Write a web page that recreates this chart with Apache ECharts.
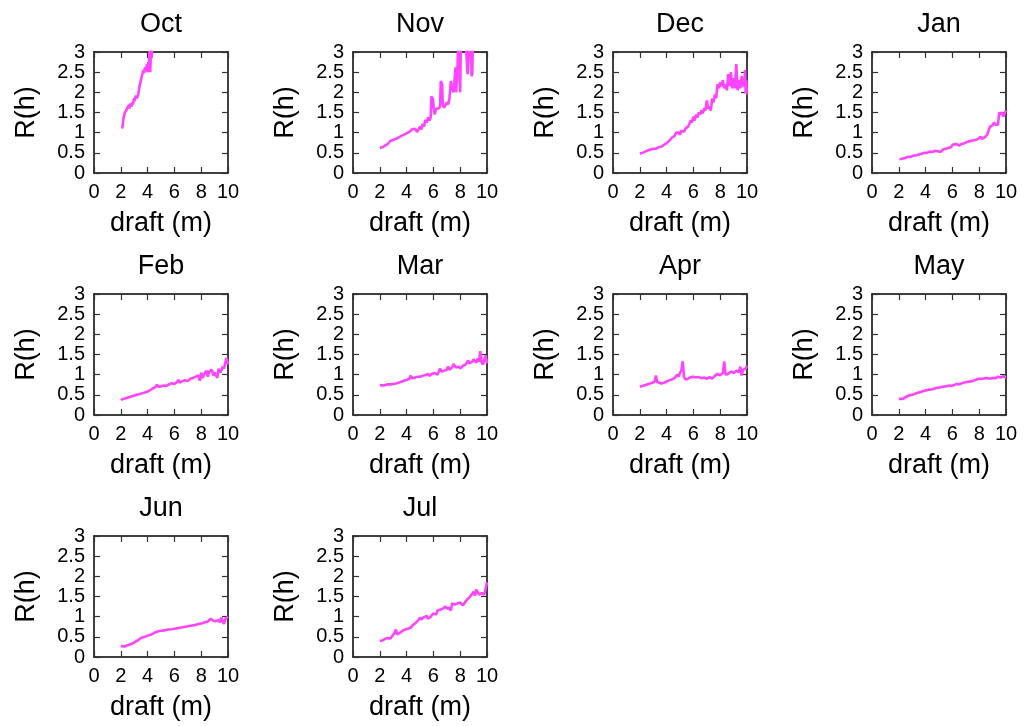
<!DOCTYPE html>
<html>
<head>
<meta charset="utf-8">
<script src="https://cdn.jsdelivr.net/npm/echarts@6/dist/echarts.min.js"></script>
<style>
html, body { margin: 0; padding: 0; background: #fff; }
#myChart { width: 1024px; height: 726px; }
</style>
</head>
<body>
<div id="myChart"></div>
<script>
var Panels = {};

Panels.months = ['Oct', 'Nov', 'Dec', 'Jan', 'Feb', 'Mar', 'Apr', 'May', 'Jun', 'Jul'];
Panels.xTicks = [0, 10, 2];   // min, max, step
Panels.yTicks = [0, 3, 0.5];

// draft (m), R(h)
var octData = [[2.1,1.1],[2.15,1.2],[2.2,1.35],[2.3,1.5],[2.4,1.55],[2.5,1.62],[2.6,1.68],[2.65,1.6],[2.7,1.72],[2.8,1.65],[2.85,1.75],[2.9,1.7],[3.0,1.85],[3.05,1.78],[3.1,1.92],[3.2,1.85],[3.3,1.95],[3.4,2.15],[3.5,2.3],[3.6,2.45],[3.7,2.55],[3.75,2.48],[3.8,2.62],[3.9,2.55],[3.95,2.7],[4.0,2.5],[4.05,2.75],[4.1,2.6],[4.15,3.05],[4.2,2.5],[4.25,3.1],[4.3,2.85],[4.35,3.1],[4.45,3.2],[4.6,3.3]];
var novData = [[2.0,0.62],[2.2,0.64],[2.4,0.68],[2.6,0.72],[2.7,0.75],[2.8,0.8],[2.9,0.78],[3.0,0.82],[3.2,0.85],[3.4,0.88],[3.6,0.92],[3.8,0.95],[4.0,0.98],[4.2,1.02],[4.4,1.08],[4.5,1.12],[4.6,1.1],[4.7,1.12],[4.8,1.02],[4.9,1.0],[5.0,1.15],[5.1,1.08],[5.2,1.22],[5.3,1.15],[5.4,1.32],[5.5,1.25],[5.6,1.38],[5.7,1.3],[5.8,1.38],[5.85,1.9],[5.95,1.85],[6.05,1.55],[6.1,1.45],[6.2,1.6],[6.3,1.62],[6.4,1.6],[6.5,1.65],[6.55,2.28],[6.65,2.2],[6.7,1.7],[6.8,1.62],[6.9,1.65],[7.0,1.75],[7.1,1.7],[7.2,1.85],[7.3,2.28],[7.4,2.25],[7.5,2.0],[7.55,2.2],[7.65,2.62],[7.7,2.0],[7.75,1.97],[7.8,2.6],[7.85,3.3],[8.0,2.0],[8.05,3.3],[8.2,3.4],[8.4,3.3],[8.55,2.45],[8.65,2.45],[8.7,3.2],[8.8,3.3],[8.85,2.4],[8.9,2.45],[8.95,3.3]];
var decData = [[2.0,0.48],[2.2,0.5],[2.4,0.53],[2.6,0.56],[2.8,0.58],[3.0,0.6],[3.1,0.63],[3.2,0.6],[3.4,0.64],[3.6,0.65],[3.8,0.7],[4.0,0.74],[4.2,0.8],[4.4,0.88],[4.6,0.92],[4.7,1.0],[4.8,0.97],[4.9,1.0],[5.0,0.95],[5.1,1.05],[5.3,1.02],[5.4,1.1],[5.5,1.08],[5.6,1.15],[5.7,1.22],[5.8,1.3],[5.9,1.25],[6.0,1.4],[6.1,1.3],[6.2,1.45],[6.3,1.38],[6.4,1.5],[6.5,1.45],[6.6,1.55],[6.7,1.48],[6.8,1.6],[6.9,1.55],[7.0,1.8],[7.1,1.6],[7.2,1.65],[7.3,1.55],[7.4,1.85],[7.5,1.75],[7.6,1.95],[7.7,1.85],[7.8,2.2],[7.9,2.1],[8.0,2.25],[8.1,2.15],[8.2,2.3],[8.3,2.1],[8.4,2.2],[8.5,2.05],[8.6,2.45],[8.7,2.15],[8.8,2.5],[8.9,2.1],[9.0,2.35],[9.1,2.1],[9.2,2.7],[9.3,2.05],[9.4,2.3],[9.5,2.1],[9.6,2.4],[9.7,2.15],[9.8,2.2],[9.85,2.55],[9.9,1.98],[9.95,2.3],[10.0,1.95]];
var janData = [[2.05,0.34],[2.3,0.36],[2.5,0.38],[2.7,0.4],[2.9,0.4],[3.1,0.43],[3.3,0.44],[3.5,0.46],[3.7,0.48],[3.9,0.5],[4.1,0.5],[4.3,0.53],[4.5,0.52],[4.7,0.55],[4.9,0.54],[5.1,0.52],[5.3,0.58],[5.5,0.6],[5.7,0.62],[5.9,0.64],[6.0,0.7],[6.1,0.66],[6.3,0.72],[6.5,0.68],[6.7,0.72],[6.9,0.74],[7.0,0.7],[7.2,0.78],[7.4,0.8],[7.5,0.76],[7.7,0.82],[7.9,0.84],[8.0,0.8],[8.1,0.9],[8.2,0.85],[8.4,0.88],[8.5,0.92],[8.6,0.95],[8.8,1.15],[9.0,1.18],[9.1,1.25],[9.2,1.2],[9.3,1.22],[9.4,1.2],[9.5,1.5],[9.6,1.45],[9.7,1.5],[9.8,1.4],[9.9,1.48],[10.0,1.55]];
var febData = [[2.0,0.38],[2.3,0.41],[2.6,0.44],[2.9,0.47],[3.2,0.5],[3.5,0.53],[3.8,0.56],[4.0,0.58],[4.2,0.62],[4.4,0.66],[4.6,0.7],[4.7,0.75],[4.8,0.7],[5.0,0.71],[5.2,0.73],[5.4,0.72],[5.6,0.76],[5.8,0.79],[6.0,0.77],[6.2,0.82],[6.3,0.87],[6.4,0.8],[6.6,0.84],[6.8,0.86],[7.0,0.84],[7.2,0.9],[7.4,0.92],[7.5,0.88],[7.6,0.95],[7.8,0.98],[7.9,0.85],[8.0,1.05],[8.1,0.92],[8.2,1.0],[8.4,1.1],[8.5,0.95],[8.6,1.08],[8.8,1.12],[8.9,0.98],[9.0,1.05],[9.2,0.92],[9.3,1.15],[9.4,1.05],[9.5,1.1],[9.6,1.2],[9.7,1.15],[9.8,1.3],[9.9,1.42],[10.0,1.25]];
var marData = [[2.0,0.74],[2.3,0.73],[2.6,0.76],[2.9,0.76],[3.2,0.78],[3.5,0.81],[3.8,0.85],[4.0,0.87],[4.2,0.9],[4.3,0.98],[4.4,0.91],[4.6,0.92],[4.8,0.95],[5.0,0.95],[5.2,0.97],[5.4,0.99],[5.6,1.02],[5.7,0.97],[5.9,1.02],[6.1,1.04],[6.3,1.0],[6.5,1.15],[6.6,1.08],[6.8,1.1],[7.0,1.12],[7.1,1.2],[7.2,1.12],[7.4,1.18],[7.5,1.26],[7.7,1.18],[7.9,1.2],[8.0,1.15],[8.2,1.22],[8.4,1.25],[8.6,1.35],[8.7,1.28],[8.9,1.32],[9.0,1.38],[9.2,1.3],[9.3,1.4],[9.4,1.32],[9.5,1.58],[9.6,1.3],[9.7,1.25],[9.8,1.38],[9.9,1.48],[10.0,1.28]];
var aprData = [[2.0,0.7],[2.3,0.73],[2.6,0.76],[2.9,0.8],[3.1,0.82],[3.2,0.98],[3.3,0.82],[3.4,0.78],[3.6,0.78],[3.8,0.8],[4.0,0.83],[4.2,0.86],[4.4,0.88],[4.6,0.92],[4.8,1.0],[4.9,0.95],[5.0,1.05],[5.1,1.1],[5.2,1.33],[5.3,0.95],[5.4,0.88],[5.6,0.9],[5.8,0.94],[6.0,0.95],[6.2,0.93],[6.4,0.94],[6.6,0.91],[6.8,0.93],[7.0,0.9],[7.2,0.94],[7.4,0.9],[7.6,0.97],[7.8,1.02],[8.0,0.98],[8.2,1.05],[8.3,1.33],[8.4,1.0],[8.6,1.02],[8.8,1.08],[9.0,1.04],[9.2,1.1],[9.4,1.06],[9.5,1.2],[9.6,0.98],[9.7,1.12],[9.8,1.08],[9.9,1.15],[10.0,1.22]];
var mayData = [[2.0,0.4],[2.3,0.4],[2.5,0.44],[2.8,0.49],[3.0,0.5],[3.3,0.54],[3.5,0.56],[3.8,0.59],[4.0,0.61],[4.3,0.63],[4.5,0.64],[4.8,0.67],[5.0,0.68],[5.3,0.7],[5.5,0.71],[5.8,0.73],[6.0,0.72],[6.3,0.77],[6.5,0.76],[6.8,0.8],[7.0,0.81],[7.3,0.83],[7.5,0.84],[7.8,0.88],[8.0,0.9],[8.3,0.9],[8.5,0.92],[8.8,0.9],[9.0,0.92],[9.2,0.91],[9.4,0.95],[9.6,0.93],[9.8,0.96],[10.0,0.93]];
var junData = [[2.0,0.27],[2.3,0.26],[2.5,0.29],[2.8,0.32],[3.0,0.36],[3.3,0.42],[3.5,0.47],[3.8,0.5],[4.0,0.53],[4.3,0.56],[4.5,0.6],[4.8,0.64],[5.0,0.65],[5.3,0.66],[5.5,0.68],[5.8,0.69],[6.0,0.7],[6.3,0.72],[6.5,0.73],[6.8,0.75],[7.0,0.76],[7.3,0.78],[7.5,0.79],[7.8,0.82],[8.0,0.83],[8.3,0.86],[8.5,0.88],[8.7,0.95],[8.9,0.9],[9.1,0.89],[9.3,0.92],[9.4,0.86],[9.5,0.98],[9.6,0.88],[9.7,0.82],[9.8,0.95],[9.9,0.92],[10.0,1.0]];
var julData = [[2.0,0.4],[2.2,0.41],[2.4,0.45],[2.6,0.47],[2.8,0.46],[3.0,0.55],[3.1,0.6],[3.2,0.68],[3.3,0.56],[3.5,0.6],[3.7,0.65],[3.9,0.68],[4.1,0.7],[4.3,0.73],[4.5,0.8],[4.7,0.85],[4.9,0.92],[5.0,0.98],[5.1,0.93],[5.3,0.99],[5.5,1.02],[5.6,0.95],[5.8,1.0],[6.0,1.08],[6.2,1.05],[6.3,1.15],[6.5,1.17],[6.7,1.2],[6.9,1.25],[7.0,1.2],[7.2,1.22],[7.3,1.15],[7.4,1.33],[7.6,1.3],[7.8,1.33],[8.0,1.35],[8.2,1.28],[8.3,1.25],[8.5,1.42],[8.7,1.48],[8.8,1.52],[9.0,1.62],[9.1,1.52],[9.2,1.67],[9.4,1.55],[9.6,1.58],[9.8,1.55],[9.9,1.7],[10.0,1.85]];

Panels.seriesData = [octData, novData, decData, janData, febData, marData, aprData, mayData, junData, julData];

Panels.colLeft = [94, 353, 613, 872];
Panels.rowTop = [52, 294, 536];
Panels.plotW = 134;
Panels.plotH = 121;
Panels.font = '"Liberation Sans", Arial, Helvetica, sans-serif';
Panels.lineColor = '#ff44ff';

Panels.buildAxis = function(gridIndex, isX, mirror) {
	var t = isX ? Panels.xTicks : Panels.yTicks;
	var axis = {
		type : 'value',
		gridIndex : gridIndex,
		min : t[0],
		max : t[1],
		interval : t[2],
		position : isX ? (mirror ? 'top' : 'bottom') : (mirror ? 'right' : 'left'),
		splitLine : { show : false },
		axisLine : { show : true, onZero : false, lineStyle : { color : '#000', width : 1.5 } },
		axisTick : { show : true, inside : true, length : 6, lineStyle : { color : '#333', width : 1.2 } },
		axisLabel : {
			show : !mirror,
			margin : 9,
			color : '#000',
			fontSize : 20,
			fontFamily : Panels.font,
			showMinLabel : true,
			showMaxLabel : true
		}
	};
	if (!mirror) {
		axis.name = isX ? 'draft (m)' : 'R(h)';
		axis.nameLocation = 'middle';
		axis.nameGap = isX ? 37 : 54;
		axis.nameRotate = isX ? 0 : 90;
		axis.nameTextStyle = { color : '#000', fontSize : 27, fontFamily : Panels.font };
	}
	return axis;
};

Panels.initChart = function() {
	var grids = [], xAxes = [], yAxes = [], titles = [], series = [];
	for (var i = 0; i < Panels.months.length; i++) {
		var left = Panels.colLeft[i % 4];
		var top = Panels.rowTop[Math.floor(i / 4)];
		grids.push({ left : left, top : top, width : Panels.plotW, height : Panels.plotH, show : false });
		titles.push({
			text : Panels.months[i],
			left : left + Panels.plotW / 2,
			top : top - 41,
			textAlign : 'center',
			padding : 0,
			textStyle : { color : '#000', fontSize : 27, fontWeight : 'normal', fontFamily : Panels.font }
		});
		// main axes first, mirrored ones after (index = i + 10)
		xAxes[i] = Panels.buildAxis(i, true, false);
		yAxes[i] = Panels.buildAxis(i, false, false);
		xAxes[i + 10] = Panels.buildAxis(i, true, true);
		yAxes[i + 10] = Panels.buildAxis(i, false, true);
		series.push({
			type : 'line',
			xAxisIndex : i,
			yAxisIndex : i,
			data : Panels.seriesData[i],
			showSymbol : false,
			clip : true,
			lineStyle : { color : Panels.lineColor, width : 2.6 },
			animation : false
		});
	}

	var myChart = echarts.init(document.getElementById('myChart'));
	myChart.setOption({
		backgroundColor : '#fff',
		animation : false,
		title : titles,
		grid : grids,
		xAxis : xAxes,
		yAxis : yAxes,
		series : series
	});
};

Panels.initChart();
</script>
</body>
</html>
